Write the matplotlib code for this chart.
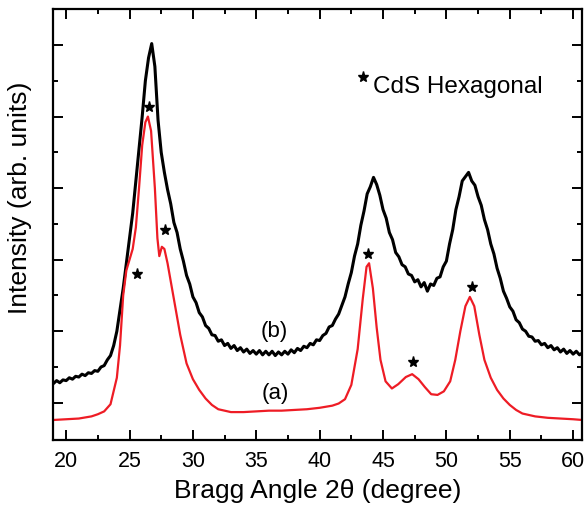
import numpy as np
import matplotlib
matplotlib.use("Agg")
import matplotlib.pyplot as plt

plt.rcParams['font.family'] = ['Liberation Sans', 'DejaVu Sans']

# (b) - noisy black pattern, sampled every 0.25 deg starting at 19 (one row = 1 degree)
b_start = 19.0
b_step = 0.25
b_int = [
    0.27, 0.31, 0.28, 0.32,   # 19
    0.31, 0.35, 0.33, 0.37,   # 20
    0.36, 0.40, 0.38, 0.42,   # 21
    0.41, 0.45, 0.44, 0.50,   # 22
    0.52, 0.60, 0.66, 0.80,   # 23
    1.00, 1.30, 1.60, 1.95,   # 24
    2.30, 2.65, 3.10, 3.55,   # 25
    4.00, 4.50, 4.82, 5.02,   # 26
    4.70, 3.95, 3.50, 3.22,   # 27
    2.98, 2.78, 2.52, 2.38,   # 28
    2.15, 1.98, 1.78, 1.66,   # 29
    1.48, 1.40, 1.26, 1.20,   # 30
    1.08, 1.04, 0.95, 0.94,   # 31
    0.86, 0.88, 0.80, 0.83,   # 32
    0.76, 0.80, 0.73, 0.77,   # 33
    0.71, 0.75, 0.69, 0.73,   # 34
    0.68, 0.73, 0.67, 0.72,   # 35
    0.67, 0.72, 0.66, 0.71,   # 36
    0.67, 0.72, 0.68, 0.74,   # 37
    0.70, 0.76, 0.73, 0.79,   # 38
    0.77, 0.83, 0.81, 0.88,   # 39
    0.87, 0.94, 0.97, 1.06,   # 40
    1.08, 1.17, 1.24, 1.36,   # 41
    1.48, 1.66, 1.82, 2.05,   # 42
    2.22, 2.48, 2.68, 2.92,   # 43
    3.02, 3.15, 3.05, 2.90,   # 44
    2.70, 2.58, 2.38, 2.28,   # 45
    2.10, 2.04, 1.93, 1.90,   # 46
    1.80, 1.78, 1.69, 1.72,   # 47
    1.62, 1.68, 1.56, 1.66,   # 48
    1.64, 1.74, 1.76, 1.90,   # 49
    1.98, 2.22, 2.42, 2.70,   # 50
    2.88, 3.10, 3.16, 3.22,   # 51
    3.10, 3.04, 2.88, 2.76,   # 52
    2.56, 2.42, 2.22, 2.08,   # 53
    1.88, 1.74, 1.56, 1.46,   # 54
    1.34, 1.28, 1.16, 1.12,   # 55
    1.03, 1.00, 0.93, 0.92,   # 56
    0.86, 0.87, 0.81, 0.83,   # 57
    0.77, 0.80, 0.74, 0.77,   # 58
    0.71, 0.75, 0.69, 0.73,   # 59
    0.68, 0.72, 0.67, 0.70,   # 60
]
b_angle = b_start + b_step * np.arange(len(b_int))

# (a) - red pattern
a_angle = [19, 20, 21, 22, 22.5, 23, 23.5, 24, 24.25, 24.5, 24.75, 25, 25.25,
           25.5, 25.75, 26, 26.25, 26.45, 26.7, 27.0, 27.2, 27.35, 27.55, 27.75,
           28, 28.5, 29, 29.5, 30, 30.5, 31, 31.5, 32, 33, 34, 35, 36, 37, 38,
           39, 40, 41, 41.5, 42, 42.5, 43, 43.4, 43.7, 43.9, 44.2, 44.5, 44.8,
           45.2, 45.7, 46.2, 46.8, 47.3, 47.8, 48.3, 48.8, 49.3, 49.8, 50.3,
           50.7, 51.1, 51.5, 51.85, 52.2, 52.6, 53, 53.5, 54, 54.5, 55, 55.5,
           56, 57, 58, 59, 60, 60.7]
a_int = [-0.24, -0.23, -0.22, -0.19, -0.16, -0.12, -0.02, 0.35, 0.80, 1.50,
         1.85, 2.00, 2.15, 2.45, 3.00, 3.60, 3.92, 4.00, 3.80, 3.00, 2.30, 2.05,
         2.18, 2.15, 1.95, 1.45, 0.95, 0.55, 0.33, 0.18, 0.06, -0.03, -0.09,
         -0.13, -0.13, -0.12, -0.11, -0.11, -0.10, -0.09, -0.07, -0.04, -0.01,
         0.05, 0.25, 0.75, 1.45, 1.90, 1.95, 1.60, 1.05, 0.60, 0.30, 0.20, 0.26,
         0.36, 0.40, 0.33, 0.22, 0.12, 0.11, 0.16, 0.30, 0.60, 1.00, 1.35, 1.48,
         1.35, 0.95, 0.60, 0.35, 0.18, 0.06, -0.03, -0.10, -0.15, -0.19, -0.21,
         -0.22, -0.23, -0.24]

# CdS hexagonal reflections (star markers)
star_angle = [25.6, 26.5, 27.8, 43.8, 47.4, 52.0]
star_int = [1.80, 4.14, 2.41, 2.08, 0.57, 1.62]

fig = plt.figure(figsize=(5.87, 5.13), dpi=100)
ax = fig.add_axes([0.0911, 0.1423, 0.9004, 0.8411])

ax.plot(b_angle, b_int, color='black', lw=2.2)
ax.plot(a_angle, a_int, color='#ee1c25', lw=1.6)
ax.plot(star_angle, star_int, ls='none', marker='*', ms=8, color='black')

ax.text(36.4, 1.0, '(b)', fontsize=16, ha='center', va='center')
ax.text(36.5, 0.13, '(a)', fontsize=16, ha='center', va='center')

ax.plot([43.4], [4.55], ls='none', marker='*', ms=8, color='black')
ax.text(44.2, 4.42, 'CdS Hexagonal', fontsize=17.5, ha='left', va='center')

ax.set_xlim(19, 60.7)
ax.set_ylim(-0.52, 5.51)
ax.set_xticks([20, 25, 30, 35, 40, 45, 50, 55, 60])
ax.set_xticks(np.arange(22.5, 60, 5), minor=True)
ax.set_yticks(np.arange(0, 6, 1))
ax.set_yticks(np.arange(0.5, 5.5, 1), minor=True)
ax.tick_params(which='both', direction='in', top=True, right=True, width=1.4,
               labelleft=False, labelsize=15.5, pad=8)
ax.tick_params(which='major', length=7)
ax.tick_params(which='minor', length=3.5)
for s in ax.spines.values():
    s.set_linewidth(1.6)

ax.set_xlabel('Bragg Angle 2θ (degree)', fontsize=19, labelpad=5)
fig.text(20 / 587, 1 - 198 / 513, 'Intensity (arb. units)', fontsize=19,
         rotation=90, ha='center', va='center')

fig.savefig('out.png', dpi=100)
